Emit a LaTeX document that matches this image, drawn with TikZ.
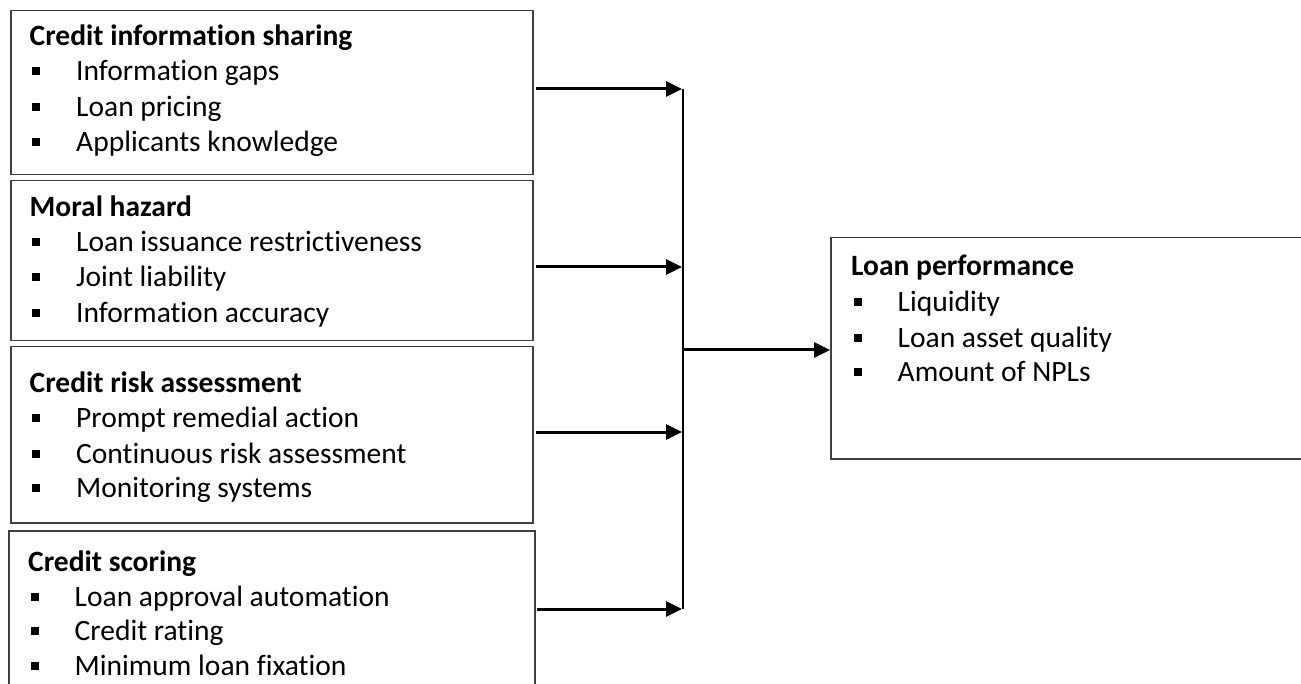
\documentclass[tikz,border=0pt]{standalone}
\usepackage{fontspec}
\setmainfont{Carlito}[Ligatures=NoCommon]
\usetikzlibrary{arrows.meta}
\definecolor{boxgray}{HTML}{404040}
\tikzset{
 box/.style={draw=boxgray, line width=1.5pt, anchor=north west, inner sep=0pt},
 ln/.style={anchor=base west, inner sep=0pt, font=\fontsize{29.5pt}{35pt}\selectfont},
 ttl/.style={anchor=base west, inner sep=0pt, font=\fontsize{29.5pt}{35pt}\selectfont\bfseries},
 arr/.style={line width=3pt, -{Triangle[length=16pt,width=15pt]}},
 bus/.style={line width=2.2pt},
}
\newcommand{\bsq}{\makebox[46.5pt][l]{\hspace{2.5pt}\raisebox{5.5pt}{\rule{8pt}{8pt}}}}
\begin{document}
\begin{tikzpicture}[x=1pt,y=-1pt]
\useasboundingbox (0,0) rectangle (1301,684);
\clip (0,0) rectangle (1301,684);
% boxes
\node[box, minimum width=522pt, minimum height=164pt] (b1) at (10,10) {};
\node[box, minimum width=522pt, minimum height=160pt] (b2) at (10,180) {};
\node[box, minimum width=522pt, minimum height=176pt] (b3) at (10,346) {};
\node[box, minimum width=526pt, minimum height=170pt] (b4) at (8,530) {};
\node[box, minimum width=480pt, minimum height=221pt] (r) at (830,237) {};
% texts box 1
\node[ttl] (t1) at (29.5,46) {Credit information sharing};
\node[ln] (t1a) at (29.5,81) {\bsq Information gaps};
\node[ln] (t1b) at (29.5,116.5) {\bsq Loan pricing};
\node[ln] (t1c) at (29.5,152) {\bsq Applicants knowledge};
% box 2
\node[ttl] (t2) at (29.5,217) {Moral hazard};
\node[ln] (t2a) at (29.5,251.5) {\bsq Loan issuance restrictiveness};
\node[ln] (t2b) at (29.5,287) {\bsq Joint liability};
\node[ln] (t2c) at (29.5,322.5) {\bsq Information accuracy};
% box 3
\node[ttl] (t3) at (29.5,392.7) {Credit risk assessment};
\node[ln] (t3a) at (29.5,427.7) {\bsq Prompt remedial action};
\node[ln] (t3b) at (29.5,463.3) {\bsq Continuous risk assessment};
\node[ln] (t3c) at (29.5,497.7) {\bsq Monitoring systems};
% box 4
\node[ttl] (t4) at (28,571) {Credit scoring};
\node[ln] (t4a) at (28,606) {\bsq Loan approval automation};
\node[ln] (t4b) at (28,640.7) {\bsq Credit rating};
\node[ln] (t4c) at (28,675) {\bsq Minimum loan fixation};
% right box
\node[ttl] (t5) at (851,276) {Loan performance};
\node[ln] (t5a) at (851,311.7) {\bsq Liquidity};
\node[ln] (t5b) at (851,347.7) {\bsq Loan asset quality};
\node[ln] (t5c) at (851,381.7) {\bsq Amount of NPLs};
% connectors
\coordinate (j1) at (683,89);
\coordinate (j2) at (683,267);
\coordinate (j3) at (683,432);
\coordinate (j4) at (683,609);
\coordinate (jm) at (683,350);
\draw[arr] ([xshift=2pt]b1.east |- j1) -- ([xshift=-1pt]j1);
\draw[arr] ([xshift=2pt]b2.east |- j2) -- ([xshift=-1pt]j2);
\draw[arr] ([xshift=2pt]b3.east |- j3) -- ([xshift=-1pt]j3);
\draw[arr] ([xshift=1pt]b4.east |- j4) -- ([xshift=-1pt]j4);
\draw[bus] (j1) -- (j4);
\draw[arr] (jm) -- (r.west |- jm);
\end{tikzpicture}
\end{document}
